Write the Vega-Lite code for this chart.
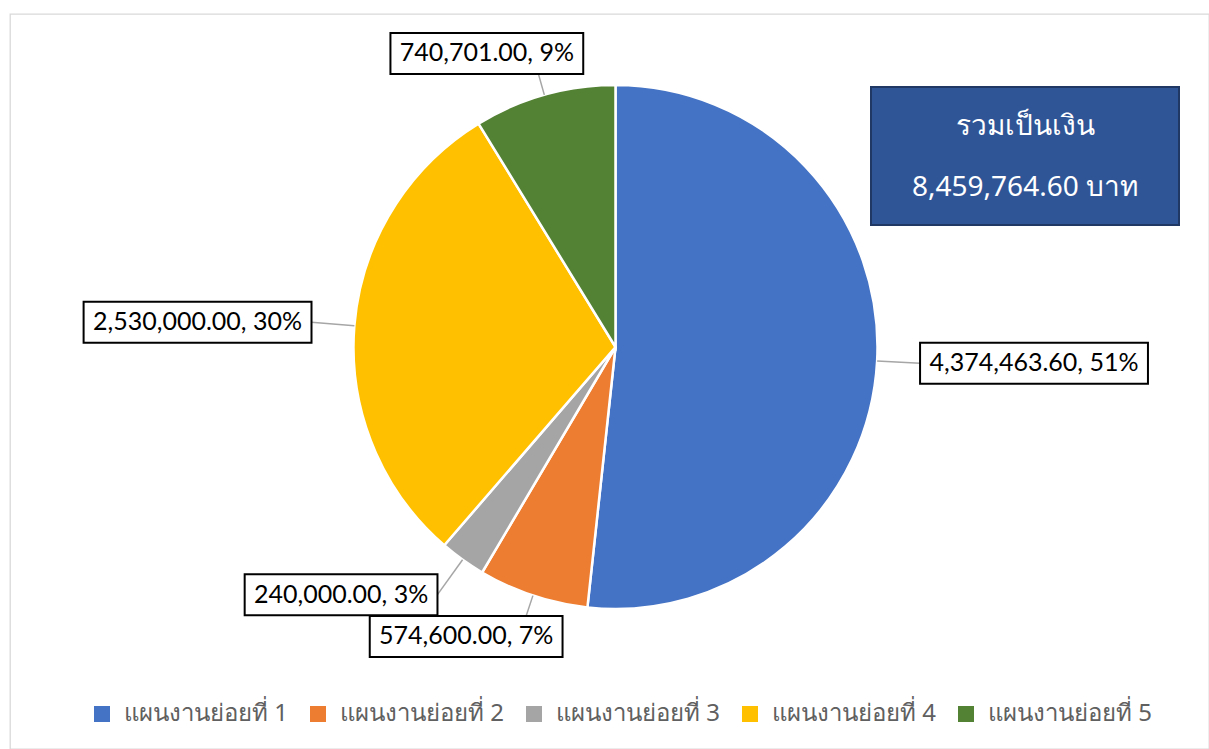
{
  "$schema": "https://vega.github.io/schema/vega-lite/v6.json",
  "width": 1199,
  "height": 735,
  "autosize": {"type": "none"},
  "padding": {"left": 10, "top": 14, "right": 0, "bottom": 0},
  "background": "white",
  "config": {"view": {"stroke": "#d9d9d9", "strokeWidth": 1.3}, "font": "Noto Sans"},
  "data": {"values": [
    {"plan": "แผนงานย่อยที่ 1", "amount": 4374463.60, "label": "4,374,463.60, 51%"},
    {"plan": "แผนงานย่อยที่ 2", "amount": 574600.00, "label": "574,600.00, 7%"},
    {"plan": "แผนงานย่อยที่ 3", "amount": 240000.00, "label": "240,000.00, 3%"},
    {"plan": "แผนงานย่อยที่ 4", "amount": 2530000.00, "label": "2,530,000.00, 30%"},
    {"plan": "แผนงานย่อยที่ 5", "amount": 740701.00, "label": "740,701.00, 9%"}
  ]},
  "transform": [
    {"joinaggregate": [{"op": "sum", "field": "amount", "as": "total"}]},
    {"window": [{"op": "sum", "field": "amount", "as": "cum"}], "sort": [{"field": "plan"}], "frame": [null, 0]},
    {"calculate": "2*PI*(datum.cum - datum.amount/2)/datum.total", "as": "mid"},
    {"calculate": "11.7*length(datum.label) + 29", "as": "bw"},
    {"calculate": "262*sin(datum.mid)", "as": "lx1"},
    {"calculate": "262*cos(datum.mid)", "as": "ly1"},
    {"calculate": "305*sin(datum.mid)", "as": "lx2"},
    {"calculate": "305*cos(datum.mid)", "as": "ly2"},
    {"calculate": "min(1, 1.75*abs(sin(datum.mid)))", "as": "f"},
    {"calculate": "datum.lx2 + (sin(datum.mid) > 0 ? 1 : -1)*datum.bw/2*datum.f", "as": "bx"},
    {"calculate": "datum.ly2", "as": "by"},
    {"calculate": "datum.bx - datum.bw/2", "as": "bx0"},
    {"calculate": "datum.bx + datum.bw/2", "as": "bx1"},
    {"calculate": "datum.by - 20.5", "as": "by0"},
    {"calculate": "datum.by + 20.5", "as": "by1"}
  ],
  "layer": [
    {
      "mark": {"type": "arc", "radius": 262, "stroke": "white", "strokeWidth": 2.5},
      "encoding": {
        "theta": {"field": "amount", "type": "quantitative", "stack": true},
        "order": {"field": "plan"},
        "color": {
          "field": "plan", "type": "nominal",
          "scale": {"domain": ["แผนงานย่อยที่ 1", "แผนงานย่อยที่ 2", "แผนงานย่อยที่ 3", "แผนงานย่อยที่ 4", "แผนงานย่อยที่ 5"],
                    "range": ["#4472c4", "#ed7d31", "#a5a5a5", "#ffc000", "#548235"]},
          "legend": {"orient": "none", "legendX": 80, "legendY": 688, "direction": "horizontal", "columns": 5, "title": null,
                     "symbolType": "square", "symbolSize": 256, "symbolStrokeWidth": 0, "labelFontSize": 24,
                     "labelColor": "#606060", "labelFont": "Noto Sans", "columnPadding": 18, "labelOffset": 10, "labelLimit": 300}
        },
        "x": {"datum": 0, "type": "quantitative", "scale": {"domain": [-605.5, 593.5], "nice": false, "zero": false}, "axis": null},
        "y": {"datum": 0, "type": "quantitative", "scale": {"domain": [-402, 333], "nice": false, "zero": false}, "axis": null}
      }
    },
    {
      "mark": {"type": "rule", "color": "#a6a6a6", "strokeWidth": 1.5},
      "encoding": {
        "x": {"field": "lx1", "type": "quantitative", "scale": {"domain": [-605.5, 593.5], "nice": false, "zero": false}, "axis": null},
        "y": {"field": "ly1", "type": "quantitative", "scale": {"domain": [-402, 333], "nice": false, "zero": false}, "axis": null},
        "x2": {"field": "lx2"},
        "y2": {"field": "ly2"}
      }
    },
    {
      "mark": {"type": "rect", "fill": "white", "stroke": "black", "strokeWidth": 2},
      "encoding": {
        "x": {"field": "bx0", "type": "quantitative", "scale": {"domain": [-605.5, 593.5], "nice": false, "zero": false}, "axis": null},
        "x2": {"field": "bx1"},
        "y": {"field": "by0", "type": "quantitative", "scale": {"domain": [-402, 333], "nice": false, "zero": false}, "axis": null},
        "y2": {"field": "by1"}
      }
    },
    {
      "mark": {"type": "text", "font": "Lato", "fontSize": 25, "color": "black", "align": "center", "baseline": "middle"},
      "encoding": {
        "x": {"field": "bx", "type": "quantitative", "scale": {"domain": [-605.5, 593.5], "nice": false, "zero": false}, "axis": null},
        "y": {"field": "by", "type": "quantitative", "scale": {"domain": [-402, 333], "nice": false, "zero": false}, "axis": null},
        "text": {"field": "label"}
      }
    },
    {
      "transform": [{"aggregate": [{"op": "sum", "field": "amount", "as": "sum"}]}],
      "mark": {"type": "rect", "fill": "#2f5597", "stroke": "#203864", "strokeWidth": 2},
      "encoding": {
        "x": {"datum": 255.5, "type": "quantitative", "scale": {"domain": [-605.5, 593.5], "nice": false, "zero": false}, "axis": null},
        "x2": {"datum": 563.5},
        "y": {"datum": 260, "type": "quantitative", "scale": {"domain": [-402, 333], "nice": false, "zero": false}, "axis": null},
        "y2": {"datum": 122}
      }
    },
    {
      "transform": [
        {"aggregate": [{"op": "sum", "field": "amount", "as": "sum"}]},
        {"calculate": "['รวมเป็นเงิน', format(datum.sum, ',.2f') + ' บาท']", "as": "t"}
      ],
      "mark": {"type": "text", "fontSize": 28, "color": "white", "align": "center", "baseline": "middle", "lineHeight": 61},
      "encoding": {
        "x": {"datum": 409.5, "type": "quantitative", "scale": {"domain": [-605.5, 593.5], "nice": false, "zero": false}, "axis": null},
        "y": {"datum": 220, "type": "quantitative", "scale": {"domain": [-402, 333], "nice": false, "zero": false}, "axis": null},
        "text": {"field": "t"}
      }
    }
  ]
}
